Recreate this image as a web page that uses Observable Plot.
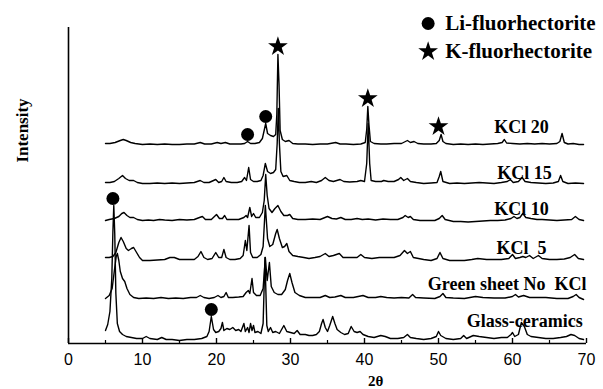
<!DOCTYPE html>
<html><head><meta charset="utf-8">
<script src="https://cdn.jsdelivr.net/npm/d3@7"></script>
<script src="https://cdn.jsdelivr.net/npm/@observablehq/plot@0.6"></script>
<style>body{margin:0;background:#fff}</style>
</head><body><div id="chart"></div>
<script>
// ---- data ----
const seriesNames = ["Glass-ceramics", "Green sheet No  KCl", "KCl  5", "KCl 10", "KCl 15", "KCl 20"];
const offsets = [0, 45, 83, 123, 160, 199];

const glass = [[5.0,13],[5.3,19],[5.6,32],[5.85,65],[6.0,112],[6.12,138],[6.25,110],[6.4,50],[6.6,20],[6.9,12],[7.3,9],[7.8,7],[8.5,6],[9.2,5],[10.0,5],[10.5,7],[11.0,5],[12.0,4],[12.6,6],[13.2,4],[14.0,4],[15.0,3],[16.0,4],[17.0,4],[18.0,5],[18.7,7],[19.0,12],[19.3,27],[19.6,14],[19.9,11],[20.3,12],[20.6,15],[20.8,21],[21.0,13],[21.4,15],[21.8,14],[22.2,16],[22.6,13],[23.0,14],[23.3,12],[23.7,20],[23.9,12],[24.2,16],[24.4,11],[24.6,20],[24.8,13],[25.0,18],[25.2,11],[25.6,12],[26.0,10],[26.3,20],[26.55,86],[26.8,18],[27.0,12],[27.3,16],[27.6,11],[28.0,12],[28.5,10],[29.1,18],[29.5,12],[30.0,11],[30.5,10],[30.9,13],[31.3,9],[32.0,9],[32.5,8],[33.0,8],[33.5,9],[33.9,12],[34.2,20],[34.4,24],[34.7,16],[35.0,12],[35.3,18],[35.7,27],[36.0,20],[36.3,14],[36.8,11],[37.3,9],[37.8,10],[38.2,17],[38.6,12],[39.0,11],[39.4,12],[39.8,9],[40.5,7],[41.3,6],[42.2,8],[42.8,7],[43.5,5],[44.5,5],[45.3,6],[45.8,9],[46.2,6],[47.0,5],[48.0,4],[49.0,5],[49.7,7],[50.0,12],[50.3,8],[51.0,5],[52.0,4],[53.0,5],[53.4,8],[53.8,5],[54.7,8],[55.5,7],[56.5,6],[57.5,5],[58.5,6],[59.3,6],[59.8,9],[60.0,11],[60.3,7],[60.8,9],[61.2,21],[61.6,17],[62.0,9],[62.5,7],[63.5,6],[64.5,5],[65.5,5],[66.5,6],[67.3,7],[67.9,9],[68.4,8],[69.0,5],[69.6,4]];

const greenSheet = [[5.0,0],[5.5,3],[5.9,10],[6.2,28],[6.45,42],[6.6,45],[6.8,38],[7.0,27],[7.3,20],[7.6,17],[7.9,10],[8.3,4],[8.8,1],[9.5,0],[10.5,0.5],[11.5,0],[12.5,1],[13.5,0],[14.5,0.5],[15.5,0],[16.5,1],[17.3,1],[17.8,3],[18.3,1],[19.0,0],[19.7,1],[20.2,3],[20.6,1],[21.0,2],[21.3,6],[21.6,1],[22.2,1],[23.0,1.5],[23.6,2],[24.0,6],[24.3,8],[24.5,5],[24.8,20],[25.0,6],[25.4,3],[25.9,3],[26.3,10],[26.6,41],[26.85,18],[27.15,36],[27.4,12],[27.8,6],[28.3,4],[28.8,4],[29.3,9],[29.6,18],[29.9,25],[30.2,16],[30.6,6],[31.2,3],[32.0,1],[33.0,1],[34.0,1],[34.7,3],[35.3,1],[36.0,1.5],[36.8,3],[37.4,1],[38.5,1],[39.8,3],[40.5,1],[41.5,1],[42.2,2],[43.0,1],[44.0,0.5],[45.0,1],[46.0,0.5],[46.5,4],[46.9,1],[48.0,0.5],[49.5,0],[50.2,2],[50.6,5],[51.0,1],[52.0,0.5],[53.5,0],[55.0,2],[56.0,1],[57.5,0.5],[59.0,0.5],[60.0,2],[60.4,4],[60.8,1.5],[61.5,3],[62.3,1],[63.5,1],[64.5,1],[66.0,0],[67.5,0],[68.2,2],[68.6,4],[69.0,1],[69.6,-1]];

const kcl5 = [[5.0,3],[5.5,3],[6.0,4],[6.4,8],[6.8,18],[7.1,23],[7.4,19],[7.8,12],[8.1,10],[8.5,12],[8.8,13],[9.2,8],[9.6,3],[10.0,0],[11.0,0],[12.0,0.5],[13.0,1],[13.7,3],[14.3,3],[15.0,1],[16.0,1],[17.0,1],[17.5,4],[17.9,9],[18.3,3],[18.8,1],[19.4,2],[19.9,8],[20.3,3],[20.7,3],[21.0,11],[21.3,3],[21.8,1],[22.5,1],[23.2,2],[23.6,5],[23.9,20],[24.1,10],[24.4,35],[24.6,8],[24.9,3],[25.5,3],[26.0,6],[26.3,14],[26.6,55],[26.9,22],[27.2,14],[27.6,16],[28.0,27],[28.2,31],[28.5,22],[28.9,13],[29.2,14],[29.5,17],[29.8,9],[30.3,5],[31.0,4],[31.8,3],[32.5,2],[33.3,3],[34.0,4],[34.7,7],[35.2,4],[35.8,5],[36.6,7],[37.1,3],[38.0,3],[39.0,3],[39.5,6],[40.0,3],[41.0,2],[42.0,3],[43.0,3],[44.0,3],[44.8,5],[45.4,10],[45.8,7],[46.2,9],[46.6,3],[47.3,2],[48.0,1],[49.0,0],[49.8,2],[50.2,8],[50.6,2],[51.5,0],[52.5,0],[53.5,0],[54.5,1],[55.3,2],[56.5,1],[57.5,1],[58.5,1],[59.5,2],[60.0,6],[60.4,2],[61.0,3],[61.4,4],[61.8,3],[62.3,5],[62.8,2],[63.5,5],[64.0,2],[65.0,1],[66.0,1],[67.0,1.5],[67.8,3],[68.4,6],[68.9,2],[69.6,1]];

const kcl10 = [[5.0,0],[5.5,1],[6.2,2],[6.8,4],[7.2,7],[7.5,8],[7.9,5],[8.3,3],[8.8,3],[9.3,1],[10.0,0],[10.8,0.5],[11.5,0],[12.3,1],[13.0,0.5],[14.0,0],[15.0,1],[16.0,0.5],[17.0,1],[17.7,3],[18.1,4],[18.5,1],[19.3,1],[20.0,6],[20.4,2],[20.8,2],[21.1,5],[21.4,1],[22.2,1],[23.0,1],[23.7,3],[24.0,5],[24.2,3],[24.5,13],[24.75,4],[25.0,7],[25.3,3],[25.8,3],[26.2,8],[26.45,20],[26.65,46],[26.85,25],[27.1,12],[27.5,8],[27.9,12],[28.3,15],[28.7,9],[29.1,5],[29.6,5],[29.9,6],[30.3,2],[31.0,1],[32.0,1],[33.0,1.5],[34.0,1],[35.0,4],[35.6,2],[36.2,1.5],[36.8,3],[37.4,1],[38.2,1],[39.0,2],[39.7,1],[40.5,1.5],[41.5,0.5],[42.5,1.5],[43.5,1],[44.5,1],[45.2,3],[45.5,5],[45.9,3],[46.2,4],[46.6,1],[47.5,0],[48.5,0],[49.5,0],[50.1,2],[50.5,5],[50.9,1],[52.0,-1],[53.0,-1],[54.0,-1.5],[55.0,-1],[56.0,-0.5],[57.0,0],[58.0,0],[59.0,0.5],[59.8,2],[60.2,4],[60.6,2],[61.0,3],[61.4,7],[61.8,3],[62.5,2],[63.3,1],[64.0,1],[65.0,0.5],[66.0,0],[67.0,0.5],[68.0,1],[68.5,4],[69.0,1],[69.6,0]];

const kcl15 = [[5.0,1],[5.6,1],[6.2,2],[6.8,5],[7.3,8],[7.7,5],[8.2,3],[8.8,3],[9.3,1],[10.0,0],[11.0,0],[12.0,0.5],[13.0,0],[14.0,0.5],[15.0,0],[16.0,0.5],[17.0,1],[17.8,3],[18.3,1],[19.0,1],[19.6,3],[19.9,4],[20.3,1],[20.7,2],[21.0,6],[21.3,2],[22.0,1],[22.8,1],[23.4,2],[23.8,6],[24.05,3],[24.35,16],[24.6,4],[25.0,2],[25.5,2],[26.0,3],[26.3,8],[26.6,20],[26.9,12],[27.3,10],[27.7,11],[28.0,14],[28.2,40],[28.35,75],[28.5,40],[28.7,12],[29.0,7],[29.5,8],[29.9,3],[30.5,2],[31.2,1],[32.0,1],[32.8,2],[33.5,1],[34.2,3],[34.7,6],[35.2,3],[35.8,2],[36.7,4],[37.2,2],[38.0,1.5],[39.0,2],[39.5,3],[40.0,2],[40.3,20],[40.5,60],[40.7,20],[40.9,3],[41.5,2],[42.3,2],[42.6,3],[43.2,2],[44.0,2],[44.6,4],[44.9,6],[45.3,3],[45.8,5],[46.2,2],[47.0,1],[48.0,0],[49.0,0.5],[49.8,1],[50.1,7],[50.3,12],[50.6,2],[51.5,0],[52.5,0.5],[53.5,0],[54.5,0.5],[55.5,1],[56.5,0.5],[57.5,0],[58.5,1],[59.3,2],[59.7,4],[60.1,1],[60.8,2],[61.3,6],[61.7,2],[62.5,1],[63.5,0.5],[64.5,0],[65.5,0.5],[66.2,2],[66.5,8],[66.8,2],[67.5,0],[68.5,0.5],[69.6,0]];

const kcl20 = [[5.0,1],[5.6,1],[6.3,2],[7.0,4],[7.4,5],[7.8,4],[8.4,2],[9.0,1],[10.0,0],[11.0,0.5],[12.0,0],[13.0,0.5],[14.0,0],[15.0,0],[16.0,0.5],[17.0,0.5],[17.8,2],[18.4,0.5],[19.3,0.5],[20.1,2],[20.6,1],[21.2,2],[21.8,0.5],[22.5,0.5],[23.3,0.5],[23.8,1],[24.2,3],[24.6,1],[25.2,1],[25.8,2],[26.2,6],[26.5,16],[26.65,21],[26.9,11],[27.3,9],[27.7,8],[28.0,10],[28.15,30],[28.3,90],[28.45,60],[28.6,14],[28.9,5],[29.3,3],[29.8,4],[30.3,1],[31.0,0.5],[32.0,0.5],[33.0,0],[34.0,0.5],[35.0,0.5],[36.1,2],[36.7,0.5],[37.5,0.5],[38.5,0],[39.5,0.5],[40.1,2],[40.3,15],[40.45,38],[40.6,20],[40.8,3],[41.3,1],[42.2,0.5],[43.0,0.5],[44.0,1],[45.0,1],[45.8,4],[46.2,2],[46.7,3],[47.2,1],[48.0,0.5],[49.0,0.5],[49.7,1],[50.1,4],[50.35,10],[50.6,3],[51.0,1],[52.0,0],[53.0,0.5],[54.0,0],[55.0,0.5],[56.0,0],[57.0,0.5],[58.0,1],[58.6,2],[58.9,5],[59.2,1.5],[60.0,1],[61.0,0.5],[62.0,1],[63.0,0.5],[64.0,1],[65.0,0.5],[66.0,1],[66.4,3],[66.7,11],[67.0,2],[67.5,0.5],[68.2,1],[69.0,0],[69.6,0]];

const seriesData = [glass, greenSheet, kcl5, kcl10, kcl15, kcl20];

// phase markers: [series, 2θ]
const liPeaks = [["Glass-ceramics", 6.0], ["Glass-ceramics", 19.3], ["KCl 20", 24.2], ["KCl 20", 26.65]];
const kPeaks = [["KCl 20", 28.3], ["KCl 20", 40.45], ["KCl 20", 50.0]];

const xMajorTicks = [0, 10, 20, 30, 40, 50, 60, 70];
const xMinorTicks = [5, 15, 25, 35, 45, 55, 65];
const legendLabels = ["Li-fluorhectorite", "K-fluorhectorite"];
const xLabel = "2θ";
const yLabel = "Intensity";

// ---- build table ----
const rows = [];
seriesNames.forEach((name, i) => {
  seriesData[i].forEach(([t, v]) => rows.push({series: name, t, v: v + offsets[i]}));
});
function peakTop(name, x) {
  const i = seriesNames.indexOf(name);
  const near = seriesData[i].filter(([t]) => Math.abs(t - x) <= 0.4);
  return offsets[i] + d3.max(near, d => d[1]);
}
const liMarks = liPeaks.map(([s, x]) => ({x, y: peakTop(s, x) + 7}));
const kMarks = kPeaks.map(([s, x]) => ({x, y: peakTop(s, x) + 8}));

const serif = "Liberation Serif, Times New Roman, serif";
const sans = "Liberation Sans, Arial, sans-serif";

// label anchors (2θ of right edge, height above axis)
const labelPlace = {
  "KCl 20": [64.9, 216], "KCl 15": [65.3, 170], "KCl 10": [64.9, 134],
  "KCl  5": [64.6, 95], "Green sheet No  KCl": [70.0, 59], "Glass-ceramics": [69.5, 22]
};
const labelRows = seriesNames.map(s => ({s, x: labelPlace[s][0], y: labelPlace[s][1]}));

const chart = Plot.plot({
  width: 603, height: 389,
  marginLeft: 68, marginRight: 17, marginTop: 27, marginBottom: 46,
  x: {domain: [0, 70], axis: null},
  y: {domain: [0, 316], axis: null},
  style: {background: "white"},
  marks: [
    Plot.line(rows, {x: "t", y: "v", z: "series", stroke: "black", strokeWidth: 1.4, strokeLinejoin: "round"}),
    Plot.ruleY([0], {stroke: "black", strokeWidth: 1.6}),
    Plot.ruleX([0], {y1: 0, y2: 316, stroke: "black", strokeWidth: 1.6}),
    Plot.ruleX(xMajorTicks, {x: d => d, y1: 0, y2: 5, stroke: "black", strokeWidth: 1.4}),
    Plot.ruleX(xMinorTicks, {x: d => d, y1: 0, y2: 3, stroke: "black", strokeWidth: 1.2}),
    Plot.text(xMajorTicks, {x: d => d, y: 0, dy: 16, text: d => String(d), fontSize: 16, fontFamily: sans, fill: "black"}),
    Plot.text([xLabel], {x: 41.5, y: 0, dy: 38, text: d => d, fontSize: 15, fontWeight: "bold", fontFamily: serif, fill: "black"}),
    Plot.text([yLabel], {x: 0, y: 213, dx: -46, rotate: -90, text: d => d, fontSize: 17, fontWeight: "bold", fontFamily: serif, fill: "black"}),
    Plot.text(labelRows, {x: "x", y: "y", text: "s", textAnchor: "end", fontSize: 18, fontWeight: "bold", fontFamily: serif, fill: "black"}),
    Plot.dot(liMarks, {x: "x", y: "y", r: 6.5, fill: "black", stroke: "none"}),
    Plot.dot(kMarks, {x: "x", y: "y", r: 6.2, symbol: "star", fill: "black", stroke: "none"}),
    Plot.dot([0], {x: 48.6, y: 320, r: 6.5, fill: "black", stroke: "none"}),
    Plot.dot([0], {x: 48.6, y: 292, r: 6.2, symbol: "star", fill: "black", stroke: "none"}),
    Plot.text([legendLabels[0]], {x: 50.9, y: 320, text: d => d, textAnchor: "start", fontSize: 21, fontWeight: "bold", fontFamily: serif, fill: "black"}),
    Plot.text([legendLabels[1]], {x: 50.9, y: 292, text: d => d, textAnchor: "start", fontSize: 21, fontWeight: "bold", fontFamily: serif, fill: "black"})
  ]
});
document.getElementById("chart").appendChild(chart);
</script></body></html>
